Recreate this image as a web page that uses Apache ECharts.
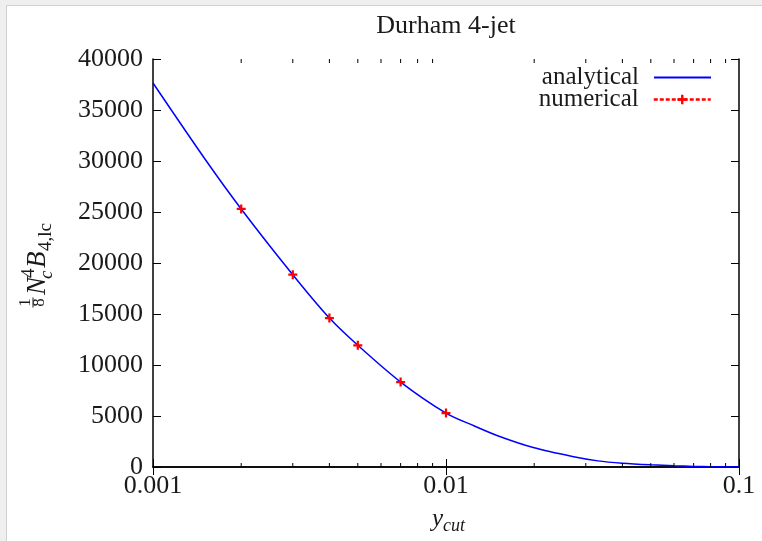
<!DOCTYPE html>
<html><head><meta charset="utf-8">
<script src="https://cdn.jsdelivr.net/npm/echarts@6/dist/echarts.min.js"></script>
<style>
html,body{margin:0;padding:0;background:#efefef;}
#frame{position:absolute;left:6px;top:5px;width:756px;height:536px;background:#fff;border-left:1px solid #d0d0d0;border-top:1px solid #d0d0d0;box-sizing:border-box;}
#chart{position:absolute;left:0;top:0;width:762px;height:541px;}
</style></head><body>
<div id="frame"></div><div id="chart"></div>
<script>
// ---- data ----
const chartTitle = 'Durham 4-jet';
const seriesNames = ['analytical', 'numerical'];
const yCutAnalytical = [0.001, 0.0015, 0.002, 0.003, 0.004, 0.005, 0.007, 0.01, 0.0125, 0.015, 0.02, 0.027, 0.033, 0.04, 0.05, 0.06, 0.07, 0.08, 0.1];
const valAnalytical  = [37650, 30250, 25300, 18850, 14600, 11930, 8330, 5290, 4020, 3070, 1880, 1030, 600, 370, 210, 120, 60, 25, 0];
const yCutNumerical = [0.002, 0.003, 0.004, 0.005, 0.007, 0.01];
const valNumerical  = [25300, 18850, 14600, 11930, 8330, 5290];
const xTickValues = [0.001, 0.01, 0.1];
const xTickLabels = ['0.001', '0.01', '0.1'];
const xMinorTicks = [0.002, 0.003, 0.004, 0.005, 0.006, 0.007, 0.008, 0.009, 0.02, 0.03, 0.04, 0.05, 0.06, 0.07, 0.08, 0.09];
const yMin = 0, yMax = 40000, yStep = 5000;

const FONT = '"Liberation Serif", "Times New Roman", serif';
const TXT = '#1a1a1a';
const chart = echarts.init(document.getElementById('chart'), null, {renderer: 'canvas'});

function gtext(txt, x, y, size, italic, align) {
  return {
    type: 'text', x: x, y: y, rotation: Math.PI / 2, silent: true,
    style: {
      text: txt, fill: TXT,
      font: (italic ? 'italic ' : '') + size + 'px ' + FONT,
      textAlign: align || 'left', align: align || 'left',
      textVerticalAlign: 'middle', verticalAlign: 'middle'
    }
  };
}
function htext(txt, x, y, size, italic, align) {
  return {
    type: 'text', x: x, y: y, silent: true,
    style: {
      text: txt, fill: TXT,
      font: (italic ? 'italic ' : '') + size + 'px ' + FONT,
      textAlign: align, align: align,
      textVerticalAlign: 'middle', verticalAlign: 'middle'
    }
  };
}

const plusPath = 'path://M3,0H5V3H8V5H5V8H3V5H0V3H3Z';

const axisLineStyle = {color: '#000', width: 1.5};
const tickStyle = {color: '#000', width: 1};

chart.setOption({
  animation: false,
  title: {
    text: chartTitle, left: 446, top: 13, textAlign: 'center', padding: 0,
    textStyle: {fontFamily: FONT, fontSize: 26, fontWeight: 'normal', color: TXT}
  },
  grid: {left: 153, right: 23, top: 59, bottom: 74, containLabel: false, outerBoundsMode: 'none'},
  legend: [
    {
      data: [{name: seriesNames[0], itemStyle: {opacity: 0}}], right: 50, top: 65, padding: 0, align: 'right',
      itemWidth: 57, itemHeight: 12, selectedMode: false,
      textStyle: {fontFamily: FONT, fontSize: 25, color: TXT, padding: [0, 10, 0, 0]}
    },
    {
      data: [{name: seriesNames[1], lineStyle: {opacity: 1, color: '#ff0000', type: [4, 2], width: 2.5}}],
      right: 50, top: 87, padding: 0, align: 'right',
      itemWidth: 57, itemHeight: 12, selectedMode: false,
      textStyle: {fontFamily: FONT, fontSize: 25, color: TXT, padding: [0, 10, 0, 0]}
    }
  ],
  xAxis: [
    {
      type: 'log', logBase: 10, min: xTickValues[0], max: xTickValues[xTickValues.length - 1],
      position: 'bottom',
      axisLine: {show: true, lineStyle: axisLineStyle},
      axisTick: {show: true, inside: true, length: 8, lineStyle: tickStyle},
      axisLabel: {
        fontFamily: FONT, fontSize: 26, color: TXT, margin: 6,
        formatter: function (v) {
          for (let i = 0; i < xTickValues.length; i++) {
            if (Math.abs(Math.log10(v) - Math.log10(xTickValues[i])) < 1e-6) return xTickLabels[i];
          }
          return '';
        }
      },
      splitLine: {show: false}
    },
    {
      type: 'log', logBase: 10, min: xTickValues[0], max: xTickValues[xTickValues.length - 1],
      position: 'top',
      axisLine: {show: true, lineStyle: axisLineStyle},
      axisTick: {show: true, inside: true, length: 8, lineStyle: tickStyle},
      axisLabel: {show: false},
      splitLine: {show: false}
    }
  ],
  yAxis: [
    {
      type: 'value', min: yMin, max: yMax, interval: yStep, position: 'left',
      axisLine: {show: true, lineStyle: axisLineStyle},
      axisTick: {show: true, inside: true, length: 8, lineStyle: tickStyle},
      axisLabel: {fontFamily: FONT, fontSize: 26, color: TXT, margin: 10, formatter: v => String(v)},
      splitLine: {show: false}
    },
    {
      type: 'value', min: yMin, max: yMax, interval: yStep, position: 'right',
      axisLine: {show: true, lineStyle: axisLineStyle},
      axisTick: {show: true, inside: true, length: 8, lineStyle: tickStyle},
      axisLabel: {show: false},
      splitLine: {show: false}
    }
  ],
  series: [
    {
      name: seriesNames[0], type: 'line', xAxisIndex: 0, yAxisIndex: 0,
      data: yCutAnalytical.map((x, i) => [x, valAnalytical[i]]),
      symbol: 'none', smooth: 0.3,
      lineStyle: {color: '#0000ff', width: 1.5},
      itemStyle: {color: '#0000ff'},
      z: 3
    },
    {
      name: seriesNames[1], type: 'line', xAxisIndex: 0, yAxisIndex: 0,
      data: yCutNumerical.map((x, i) => [x, valNumerical[i]]),
      symbol: plusPath, symbolSize: 9,
      itemStyle: {color: '#ff0000'},
      lineStyle: {color: '#ff0000', opacity: 0, type: [4, 2], width: 2.5},
      z: 4
    },
    {
      type: 'custom', xAxisIndex: 0, yAxisIndex: 0, silent: true, z: 5,
      data: xMinorTicks.map(v => [v, yMin]),
      renderItem: function (params, api) {
        const v = api.value(0);
        const b = api.coord([v, yMin]);
        const t = api.coord([v, yMax]);
        return {
          type: 'group', children: [
            {type: 'line', shape: {x1: b[0], y1: b[1], x2: b[0], y2: b[1] - 4}, style: {stroke: '#000', lineWidth: 1}},
            {type: 'line', shape: {x1: t[0], y1: t[1], x2: t[0], y2: t[1] + 4}, style: {stroke: '#000', lineWidth: 1}}
          ]
        };
      }
    }
  ],
  graphic: [
    // y-axis title: (1/8) N_c^4 B_{4,lc}
    gtext('1', 26, 302.5, 17, false, 'center'),
    {type: 'line', silent: true, shape: {x1: 33, y1: 297.5, x2: 33, y2: 307.5}, style: {stroke: TXT, lineWidth: 1}},
    gtext('8', 40, 302.5, 17, false, 'center'),
    gtext('N', 37.8, 295, 27, true),
    gtext('c', 46.5, 279, 19, true),
    gtext('4', 29.5, 278, 19, false),
    gtext('B', 37.8, 268, 27, true),
    gtext('4,lc', 46.5, 251, 19, false),
    // x-axis title: y_cut
    htext('y', 443, 519, 25, true, 'right'),
    htext('cut', 443, 526, 18, true, 'left')
  ]
});
</script>
</body></html>
